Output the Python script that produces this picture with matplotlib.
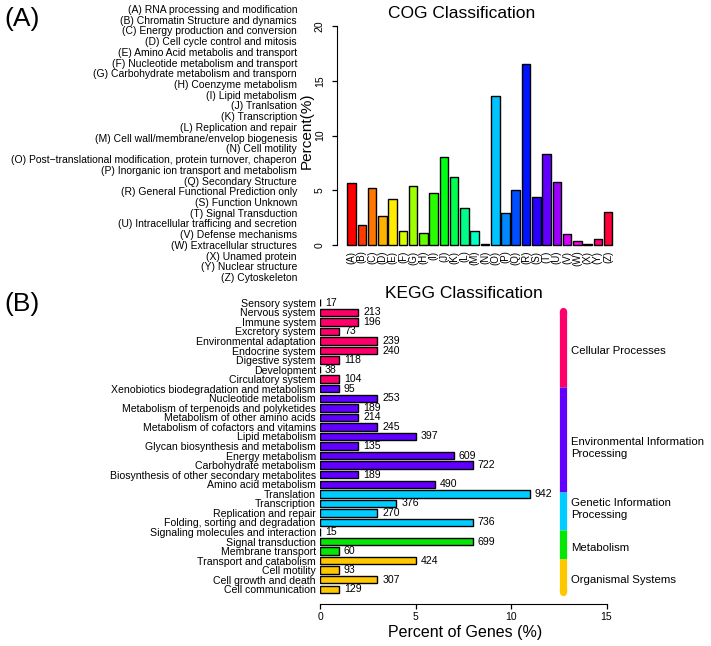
import matplotlib
matplotlib.use("Agg")
import matplotlib.pyplot as plt
from matplotlib.colors import hsv_to_rgb
import numpy as np

plt.rcParams['font.family'] = ['Liberation Sans', 'DejaVu Sans']

# ── COG data ──────────────────────────────────────────────────────────────────
cog_codes = list("ABCDEFGHIJKLMNOPQRSTUVWXYZ")
cog_names = [
    "RNA processing and modification",
    "Chromatin Structure and dynamics",
    "Energy production and conversion",
    "Cell cycle control and mitosis",
    "Amino Acid metabolis and transport",
    "Nucleotide metabolism and transport",
    "Carbohydrate metabolism and transporn",
    "Coenzyme metabolism",
    "Lipid metabolism",
    "Tranlsation",
    "Transcription",
    "Replication and repair",
    "Cell wall/membrane/envelop biogenesis",
    "Cell motility",
    "Post\u2212translational modification, protein turnover, chaperon",
    "Inorganic ion transport and metabolism",
    "Secondary Structure",
    "General Functional Prediction only",
    "Function Unknown",
    "Signal Transduction",
    "Intracellular trafficing and secretion",
    "Defense mechanisms",
    "Extracellular structures",
    "Unamed protein",
    "Nuclear structure",
    "Cytoskeleton",
]
cog_percent = [5.63, 1.80, 5.23, 2.62, 4.23, 1.28, 5.42, 1.13, 4.72, 8.06,
               6.18, 3.41, 1.25, 0.05, 13.64, 2.95, 5.00, 16.53, 4.41, 8.34,
               5.75, 0.98, 0.39, 0.05, 0.52, 3.04]

# ── KEGG data ─────────────────────────────────────────────────────────────────
kegg_terms = [
    "Sensory system", "Nervous system", "Immune system", "Excretory system",
    "Environmental adaptation", "Endocrine system", "Digestive system",
    "Development", "Circulatory system",
    "Xenobiotics biodegradation and metabolism", "Nucleotide metabolism",
    "Metabolism of terpenoids and polyketides",
    "Metabolism of other amino acids", "Metabolism of cofactors and vitamins",
    "Lipid metabolism", "Glycan biosynthesis and metabolism",
    "Energy metabolism", "Carbohydrate metabolism",
    "Biosynthesis of other secondary metabolites", "Amino acid metabolism",
    "Translation", "Transcription", "Replication and repair",
    "Folding, sorting and degradation",
    "Signaling molecules and interaction", "Signal transduction",
    "Membrane transport",
    "Transport and catabolism", "Cell motility", "Cell growth and death",
    "Cell communication",
]
kegg_percent = [0, 2, 2, 1, 3, 3, 1, 0, 1,
                1, 3, 2, 2, 3, 5, 2, 7, 8, 2, 6,
                11, 4, 3, 8,
                0, 8, 1,
                5, 1, 3, 1]
kegg_counts = [17, 213, 196, 73, 239, 240, 118, 38, 104,
               95, 253, 189, 214, 245, 397, 135, 609, 722, 189, 490,
               942, 376, 270, 736,
               15, 699, 60,
               424, 93, 307, 129]
kegg_groups = ["Cellular Processes", "Environmental Information\nProcessing",
               "Genetic Information\nProcessing", "Metabolism",
               "Organismal Systems"]
kegg_group_sizes = [9, 11, 4, 3, 4]
group_colors = ["#FF006B", "#6100FF", "#00CCFF", "#05E605", "#FFC700"]

W, H = 711, 646


def px(x, y):
    """pixel position (top-left origin) -> figure fraction"""
    return x / W, 1 - y / H


fig = plt.figure(figsize=(W / 100, H / 100), dpi=100)

# ── (A) COG ───────────────────────────────────────────────────────────────────
ax1 = fig.add_axes([336.7 / W, 1 - 253.8 / H, (623 - 336.7) / W, (253.8 - 17.2) / H])
n = len(cog_codes)
xpos = 0.7 + 1.2 * np.arange(n)
cog_colors = [hsv_to_rgb((i / n, 1, 1)) for i in range(n)]
ax1.bar(xpos, cog_percent, width=1.0, color=cog_colors, edgecolor="black", linewidth=1.0)
ax1.set_xlim(-1.04, 32.44)
ax1.set_ylim(-0.8, 20.8)
for s in ("top", "right", "bottom"):
    ax1.spines[s].set_visible(False)
ax1.spines["left"].set_bounds(0, 20)
ax1.set_yticks([0, 5, 10, 15, 20])
ax1.tick_params(axis="y", length=3.6, width=0.9, labelsize=7.5, pad=5, labelrotation=90)
for lbl in ax1.get_yticklabels():
    lbl.set_va("center")
ax1.set_xticks([])
for x, c in zip(xpos, cog_codes):
    ax1.annotate(f"({c})", (x, 0), xytext=(0, -4), textcoords="offset points",
                 rotation=90, ha="center", va="top", fontsize=7)
fig.text(*px(306.5, 131), "Percent(%)", rotation=90, ha="center", va="center", fontsize=11)
fig.text(*px(461.5, 13), "COG Classification", ha="center", va="center", fontsize=12.5)

for i, (c, name) in enumerate(zip(cog_codes, cog_names)):
    fig.text(*px(297, 10 + i * 10.72), f"({c}) {name}", ha="right", va="center", fontsize=7.5)

fig.text(*px(4, 19), "(A)", ha="left", va="center", fontsize=19)
fig.text(*px(4, 304), "(B)", ha="left", va="center", fontsize=19)

# ── (B) KEGG ──────────────────────────────────────────────────────────────────
ax2 = fig.add_axes([320 / W, 1 - 604 / H, (606.5 - 320) / W, (604 - 293.2) / H])
rows = np.arange(len(kegg_terms))
bar_colors = []
for col, size in zip(group_colors, kegg_group_sizes):
    bar_colors += [col] * size
ax2.barh(rows, kegg_percent, height=0.78, color=bar_colors, edgecolor="black", linewidth=1.0)
for r, p, cnt in zip(rows, kegg_percent, kegg_counts):
    ax2.annotate(str(cnt), (p, r), xytext=(3.5, 0), textcoords="offset points",
                 ha="left", va="center", fontsize=7.6)
ax2.set_xlim(0, 15)
ax2.set_ylim(31.54, -1.0)
for s in ("top", "right", "left"):
    ax2.spines[s].set_visible(False)
ax2.set_xticks([0, 5, 10, 15])
ax2.tick_params(axis="x", length=3.6, width=0.9, labelsize=7.5, pad=2)
ax2.set_yticks(rows)
ax2.set_yticklabels(kegg_terms, fontsize=7.6)
ax2.tick_params(axis="y", length=0, pad=3)
fig.text(*px(465, 632), "Percent of Genes (%)", ha="center", va="center", fontsize=11.5)
fig.text(*px(464, 294), "KEGG Classification", ha="center", va="center", fontsize=12.5)

# group strip on the right
bounds = [0.9] + [c - 0.2 for c in np.cumsum(kegg_group_sizes)[:-1]] + [30.25]
strip_x = 12.72
for i, col in enumerate(group_colors):
    ax2.plot([strip_x, strip_x], [bounds[i], bounds[i + 1]], color=col, lw=5.2,
             solid_capstyle="butt", clip_on=False)
ax2.plot([strip_x, strip_x], [bounds[0], bounds[0] + 0.3], color=group_colors[0], lw=5.2,
         solid_capstyle="round", clip_on=False)
ax2.plot([strip_x, strip_x], [bounds[-1] - 0.3, bounds[-1]], color=group_colors[-1], lw=5.2,
         solid_capstyle="round", clip_on=False)
label_rows = [5.06, 15.2, 21.6, 25.7, 29.0]
for g, yr in zip(kegg_groups, label_rows):
    ax2.text(13.13, yr, g, ha="left", va="center", fontsize=8.2, clip_on=False,
             linespacing=1.25)

fig.savefig("out.png", dpi=100)
